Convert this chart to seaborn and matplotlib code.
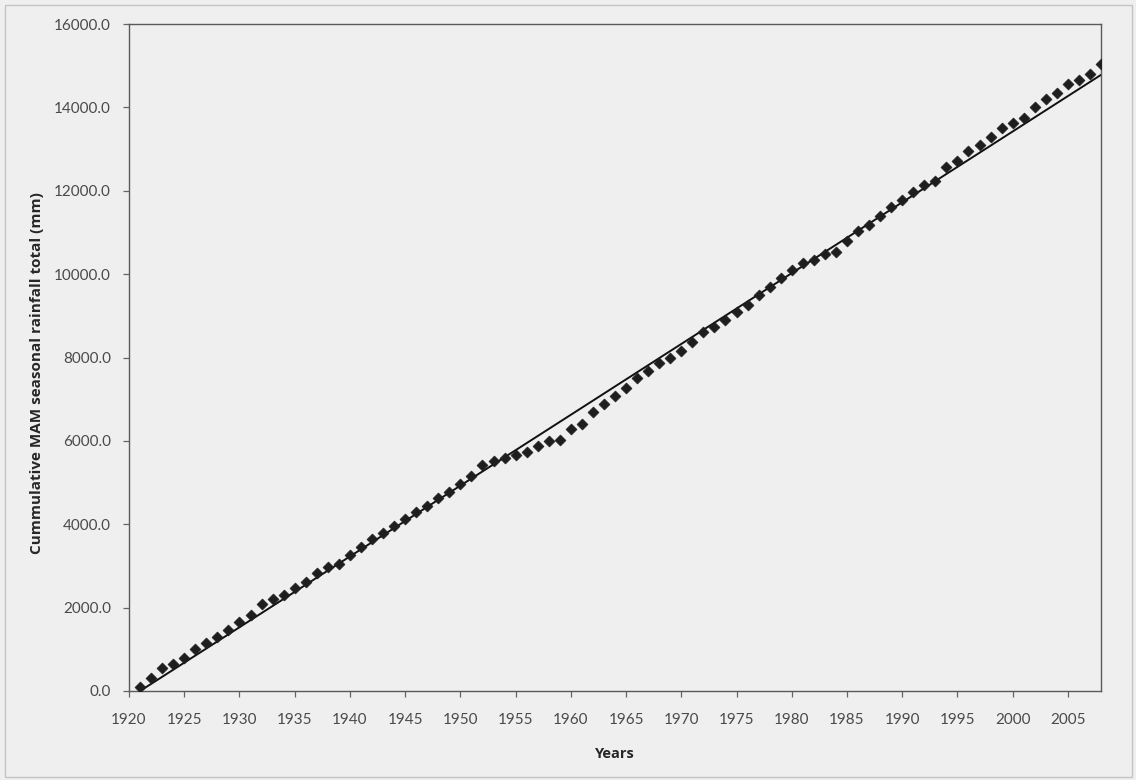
import numpy as np
import pandas as pd
import matplotlib
matplotlib.use("Agg")
import matplotlib.pyplot as plt
from matplotlib.patches import Rectangle
import seaborn as sns

# Cumulative March-May rainfall, year by year
years = list(range(1921, 2009))
cumulative_mm = [
    90, 305, 544, 648, 799, 1015, 1152, 1303, 1463, 1648,
    1823, 2080, 2200, 2303, 2478, 2615, 2824, 2967, 3056, 3266,
    3456, 3646, 3796, 3955, 4135, 4285, 4445, 4625, 4774, 4954,
    5154, 5414, 5514, 5593, 5650, 5743, 5873, 5993, 6028, 6285,
    6395, 6698, 6882, 7067, 7271, 7503, 7679, 7872, 7990, 8157,
    8373, 8600, 8726, 8900, 9089, 9251, 9497, 9695, 9904, 10090,
    10276, 10338, 10472, 10525, 10795, 11026, 11175, 11393, 11611, 11774,
    11974, 12130, 12234, 12561, 12722, 12951, 13108, 13283, 13500, 13630,
    13755, 14002, 14193, 14341, 14559, 14659, 14795, 15037,
]

# Straight reference line (constant accumulation rate)
trend_years = [1921, 2008]
trend_mm = [0, 14780]

x_ticks = list(range(1920, 2006, 5))
y_ticks = list(range(0, 16001, 2000))

x_label = "Years"
y_label = "Cummulative MAM seasonal rainfall total (mm)"

points = pd.DataFrame({"year": years, "cum": cumulative_mm})
trend = pd.DataFrame({"year": trend_years, "cum": trend_mm})

sns.set_theme(style="white")
plt.rcParams["font.family"] = ["Lato", "DejaVu Sans"]

bg = "#efefef"
fig = plt.figure(figsize=(11.36, 7.8), dpi=100, facecolor=bg)
ax = fig.add_axes([129 / 1136, 1 - 691 / 780, (1101 - 129) / 1136, (691 - 24) / 780])
ax.set_facecolor(bg)

# outer chart frame
fig.patches.append(Rectangle((5 / 1136, 3 / 780), 1127 / 1136, 772 / 780,
                             transform=fig.transFigure, fill=False,
                             edgecolor="#c4c4c4", linewidth=1.0))

sns.lineplot(data=trend, x="year", y="cum", ax=ax, color="#111111",
             linewidth=1.4, zorder=2)
sns.scatterplot(data=points, x="year", y="cum", ax=ax, marker="D", s=32,
                color="#1e1e1e", edgecolor="#1e1e1e", linewidth=0.4, zorder=3)

ax.set_xlim(1920, 2008)
ax.set_ylim(0, 16000)
ax.set_xticks(x_ticks)
ax.set_xticklabels([str(t) for t in x_ticks])
ax.set_yticks(y_ticks)
ax.set_yticklabels([f"{t:.1f}" for t in y_ticks])

ax.tick_params(axis="both", direction="out", length=4, width=0.9,
               color="#666666", labelsize=11, labelcolor="#4a4a4a",
               bottom=True, left=True)
ax.tick_params(axis="x", pad=12)
ax.tick_params(axis="y", pad=9)

for side in ["left", "right", "top", "bottom"]:
    ax.spines[side].set_visible(True)
    ax.spines[side].set_color("#5a5a5a")
    ax.spines[side].set_linewidth(1.0)

ax.set_xlabel(x_label, fontsize=10.5, fontweight="bold", color="#262626",
              family=["Open Sans", "DejaVu Sans"], labelpad=14)
ax.set_ylabel(y_label, fontsize=11, fontweight="bold", color="#262626",
              family=["Open Sans", "DejaVu Sans"])
ax.yaxis.set_label_coords(-0.087, 0.477)

fig.savefig("out.png", dpi=100, facecolor=bg)
